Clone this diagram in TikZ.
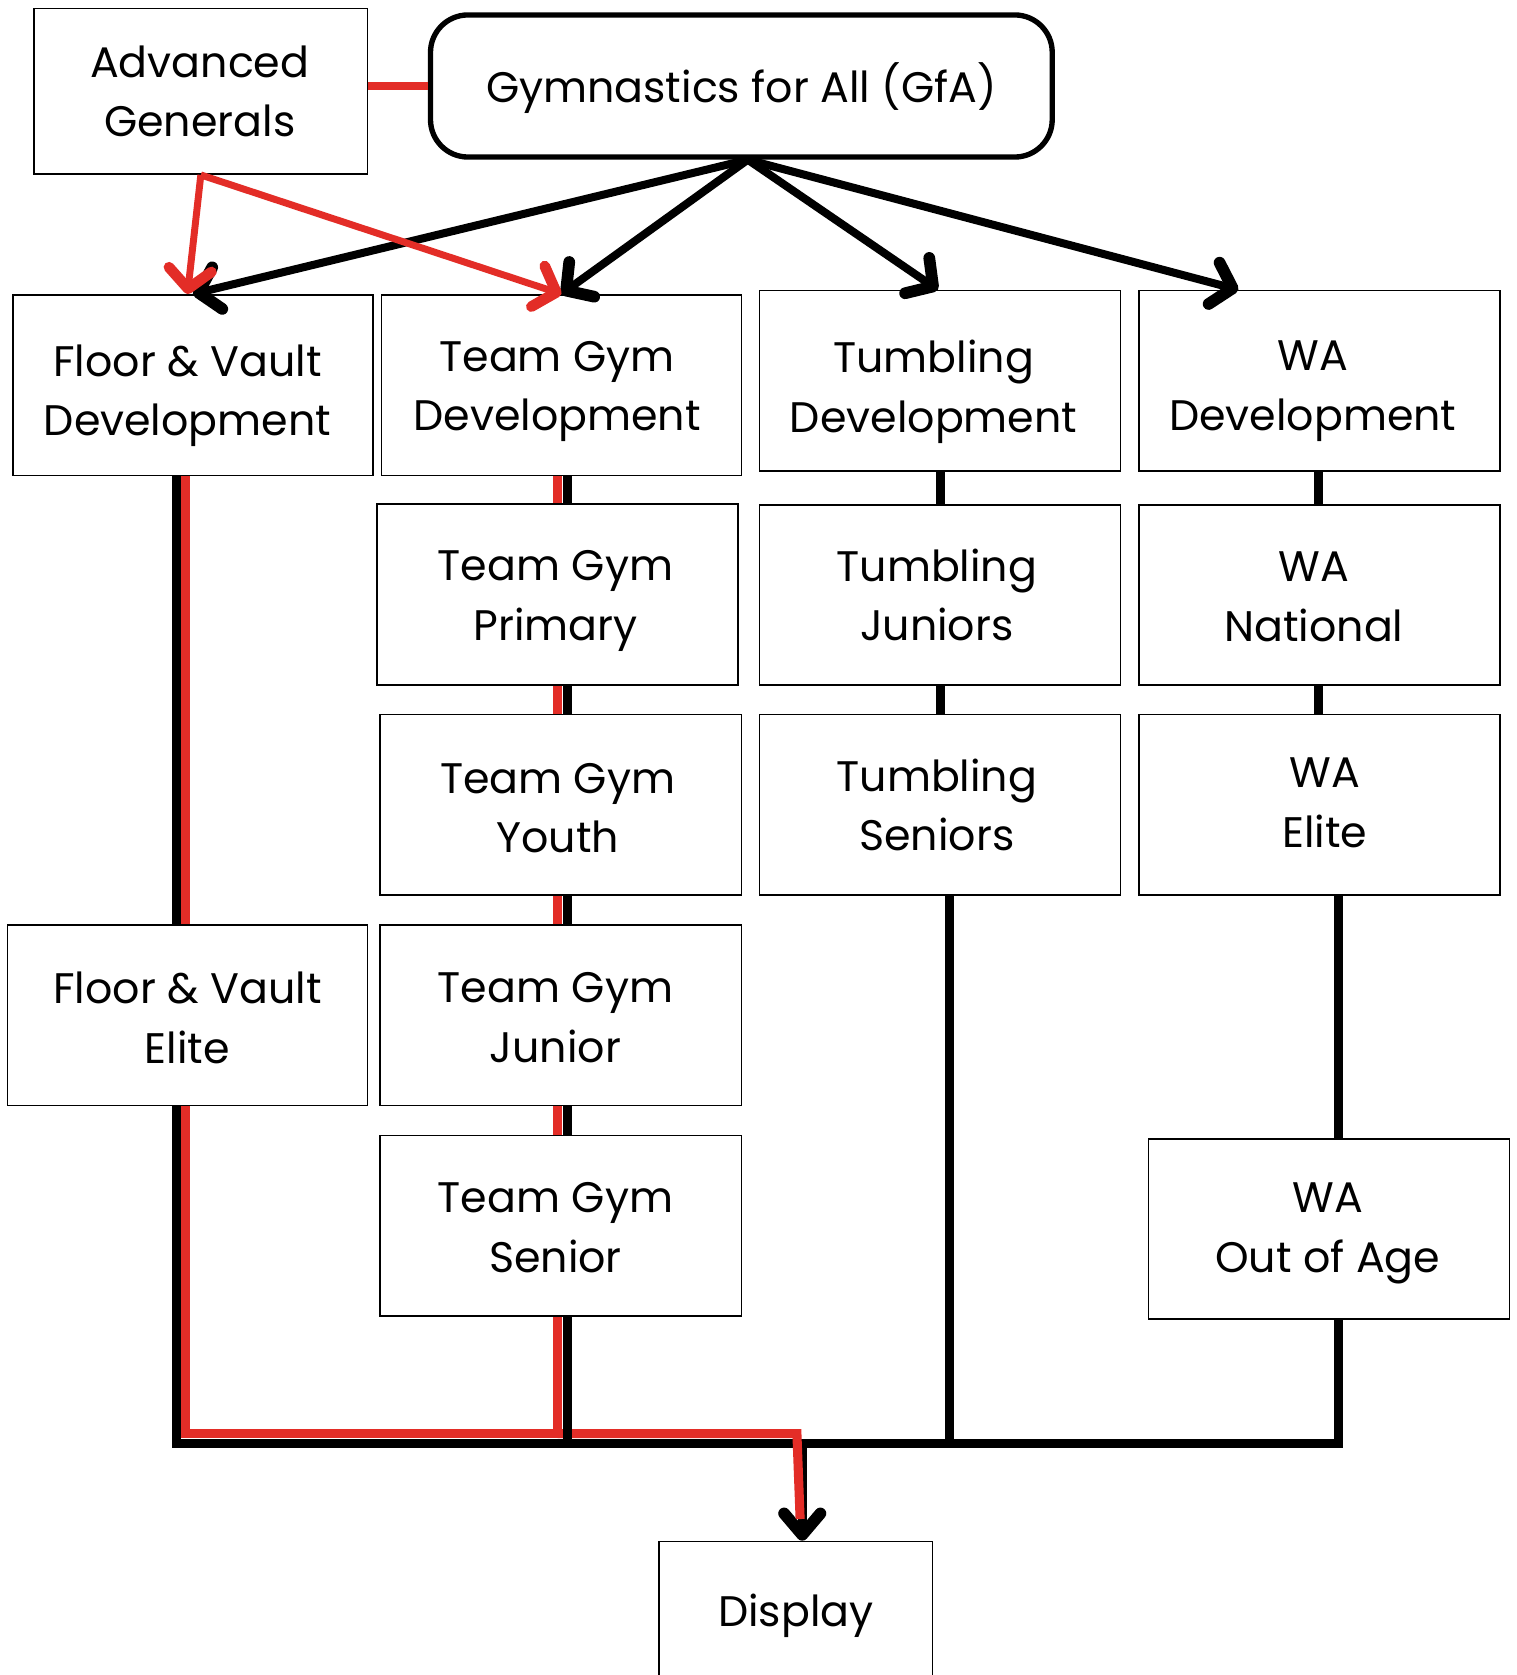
\documentclass[tikz,border=0pt]{standalone}
\usepackage{fontspec}
\setmainfont{Poppins}
\usetikzlibrary{arrows.meta,calc}
\definecolor{rd}{RGB}{227,45,39}
\begin{document}
\begin{tikzpicture}[x=1pt,y=-1pt,
  box/.style={draw, line width=1.5pt, minimum width=337pt, minimum height=169pt,
    inner sep=0pt},
  lbl/.style={align=center, inner sep=0pt, font=\fontsize{40}{56}\selectfont},
  txt/.style n args={3}{label={[lbl,xshift=#1pt,yshift=-#2pt]center:{#3}}},
  blk/.style={line width=8.5pt, black, line join=miter},
  redl/.style={line width=8.5pt, rd, line join=miter},
  garr/.style={line width=7.5pt, black, -{Straight Barb[round,length=18pt,width=40pt,line width=11pt]}},
  rarr/.style={line width=6.5pt, rd, -{Straight Barb[round,length=18pt,width=40pt,line width=10pt]}},
  darr/.style={line width=8pt, black, -{Straight Barb[round,length=20pt,width=34pt,line width=11pt]}}]
\useasboundingbox (0,0) rectangle (1420,1568);
\fill[white] (0,0) rectangle (1420,1568);

% nodes
\node[box, minimum width=312pt, minimum height=155pt, txt={-1}{0}{Advanced\\Generals}] (adv) at (188,85.5) {};
\node[box, line width=5pt, rounded corners=35pt, minimum width=582pt, minimum height=133pt,
  txt={0}{2}{Gymnastics for All (GfA)}] (gfa) at (694,80.5) {};

\node[box, txt={-5}{10}{Floor \& Vault\\Development}] (fvd) at (180.5,360.5) {};
\node[box, txt={-4}{6}{Team Gym\\Development}] (tgd) at (525.5,360.5) {};
\node[box, minimum width=338pt, txt={-6}{10}{Tumbling\\Development}] (tud) at (880,356.5) {};
\node[box, minimum width=338pt, txt={-6}{10}{WA\\Development}] (wad) at (1235,356.5) {};

\node[box, minimum width=338pt, txt={-2}{6}{Team Gym\\Primary}] (tgp) at (522,556.5) {};
\node[box, minimum width=338pt, minimum height=168pt, txt={-3}{0}{Tumbling\\Juniors}] (tuj) at (880,557) {};
\node[box, minimum width=338pt, minimum height=168pt, txt={-5}{2}{WA\\National}] (wan) at (1235,557) {};

\node[box, minimum width=338pt, txt={-3}{3}{Team Gym\\Youth}] (tgy) at (525,753.5) {};
\node[box, minimum width=338pt, txt={-3}{0}{Tumbling\\Seniors}] (tus) at (880,753.5) {};
\node[box, minimum width=338pt, txt={5}{-2}{WA\\Elite}] (wae) at (1235,753.5) {};

\node[box, txt={0}{2}{Floor \& Vault\\Elite}] (fve) at (175.5,950.5) {};
\node[box, minimum width=338pt, txt={-5}{2}{Team Gym\\Junior}] (tgj) at (525,950.5) {};

\node[box, minimum width=338pt, txt={-5}{2}{Team Gym\\Senior}] (tgs) at (525,1147.5) {};
\node[box, minimum width=338pt, txt={-1}{4}{WA\\Out of Age}] (wao) at (1244,1150.5) {};

\node[box, minimum width=256pt, minimum height=157pt, txt={0}{-9}{Display}] (disp) at (745,1521.5) {};

\coordinate (bus) at (0,1351);
\coordinate (rbus) at (0,1342);

% GfA top links
\draw[line width=7.5pt, rd] (adv.east |- gfa.west) -- (gfa.west);
\draw[garr] ([xshift=6pt]gfa.south) -- (fvd.north);
\draw[garr] ([xshift=6pt]gfa.south) -- (tgd.north);
\draw[garr] ([xshift=6pt]gfa.south) -- ([xshift=-2pt]tud.north);
\draw[garr] ([xshift=6pt]gfa.south) -- ([xshift=94pt]wad.north west);
\draw[rarr] (adv.south) -- ([xshift=-5pt]fvd.north);
\draw[rarr] (adv.south) -- (tgd.north);

% Team Gym chain (red + black)
\draw[redl] (522,0 |- tgd.south) -- (522,0 |- tgp.north);
\draw[redl] (522,0 |- tgp.south) -- (522,0 |- tgy.north);
\draw[redl] (522,0 |- tgy.south) -- (522,0 |- tgj.north);
\draw[redl] (522,0 |- tgj.south) -- (522,0 |- tgs.north);
\draw[blk] (531,0 |- tgd.south) -- (531,0 |- tgp.north);
\draw[blk] (531,0 |- tgp.south) -- (531,0 |- tgy.north);
\draw[blk] (531,0 |- tgy.south) -- (531,0 |- tgj.north);
\draw[blk] (531,0 |- tgj.south) -- (531,0 |- tgs.north);

% Tumbling chain
\draw[blk] (tud.south) -- (tuj.north);
\draw[blk] (tuj.south) -- (tus.north);
% WA chain
\draw[blk] ([xshift=-1pt]wad.south) -- ([xshift=-1pt]wan.north);
\draw[blk] ([xshift=-1pt]wan.south) -- ([xshift=-1pt]wae.north);
\draw[blk] ([xshift=18pt]wae.south) -- ([xshift=9pt]wao.north);

% Floor & Vault chain
\draw[blk] ([xshift=-15.5pt]fvd.south) -- ([xshift=-15.5pt]fvd.south |- fve.north);
\draw[redl] ([xshift=-7pt]fvd.south) -- ([xshift=-7pt]fvd.south |- fve.north);

% bottom bus (black)
\draw[blk] ([xshift=-10.5pt]fve.south) |- ([xshift=9pt]wao.south |- bus) -- ([xshift=9pt]wao.south);
\draw[blk] ([xshift=9pt]tus.south) -- ([xshift=9pt]tus.south |- bus);
\draw[darr] ([xshift=6pt]disp.north |- bus) -- ([xshift=6pt]disp.north);

% red path
\draw[redl] ([xshift=-2pt]fve.south) |- ([xshift=-3pt]tgs.south |- rbus) -- ([xshift=-3pt]tgs.south);
\draw[redl] ([xshift=-3pt]tgs.south |- rbus) -- (746,1342) -- (749,1422);
\draw[blk] ([xshift=6pt]tgs.south) -- ([xshift=6pt]tgs.south |- bus);
\end{tikzpicture}
\end{document}
